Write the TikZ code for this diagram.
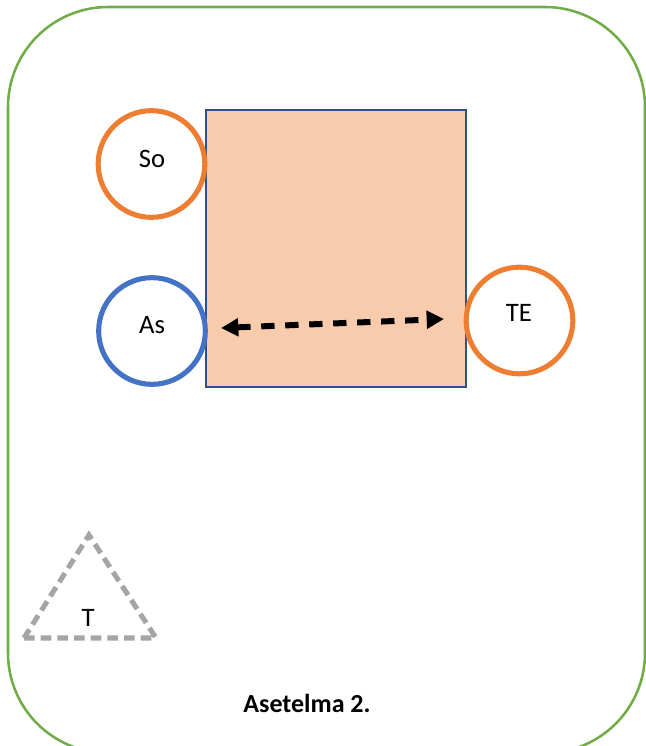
\documentclass[tikz,border=0pt]{standalone}
\usepackage{fontspec}
\setmainfont{Carlito}
\usetikzlibrary{arrows.meta,shapes.geometric}
\definecolor{frameGreen}{HTML}{70AD47}
\definecolor{boxFill}{HTML}{F8CBAD}
\definecolor{boxLine}{HTML}{2F528F}
\definecolor{ringOrange}{HTML}{ED7D31}
\definecolor{ringBlue}{HTML}{4472C4}
\definecolor{triGray}{HTML}{A5A5A5}
\tikzset{
  ring/.style={circle, draw=#1, line width=3.8pt, fill=white, minimum size=80pt, inner sep=0pt},
  lbl/.style={font=\fontsize{20pt}{24pt}\selectfont, inner sep=0pt},
  dblarrow/.style={line width=4.5pt, dash pattern=on 10pt off 8pt, {Triangle[length=13pt,width=13pt]}-{Triangle[length=13pt,width=13pt]}},
}
\begin{document}
\begin{tikzpicture}[x=0.75pt,y=-0.75pt]
\useasboundingbox (0,0) rectangle (646,746);
\clip (0,0) rectangle (646,746);
% frame
\draw[frameGreen, line width=1.9pt, rounded corners=75pt] (8,7) rectangle (645,753);
% square
\node[draw=boxLine, fill=boxFill, line width=1.5pt, minimum width=195pt, minimum height=207.75pt, inner sep=0pt] (box) at (336,248.5) {};
% circles
\node[ring=ringOrange] (So) at (151.5,164) {};
\node[ring=ringBlue] (As) at (152,331) {};
\node[ring=ringOrange] (TE) at (519.5,320.5) {};
\node[lbl] (SoT) at (152,159) {So};
\node[lbl] (AsT) at (152,325) {As};
\node[lbl] (TET) at (519,313) {TE};
% arrow
\coordinate (aL) at (221,328);
\coordinate (aR) at (444,319);
\draw[dblarrow] (aL) -- (aR);
% triangle
\coordinate (t1) at (89,535);
\coordinate (t2) at (24,638);
\coordinate (t3) at (156,638);
\draw[triGray, line width=3.8pt, dash pattern=on 8pt off 4.5pt, line join=miter] (t2) -- (t3) -- (t1) -- cycle;
\node[lbl] (TT) at (88,618) {T};
% caption
\node[lbl, font=\fontsize{19.5pt}{23pt}\selectfont\bfseries] (cap) at (307,703) {Asetelma 2.};
\end{tikzpicture}
\end{document}
